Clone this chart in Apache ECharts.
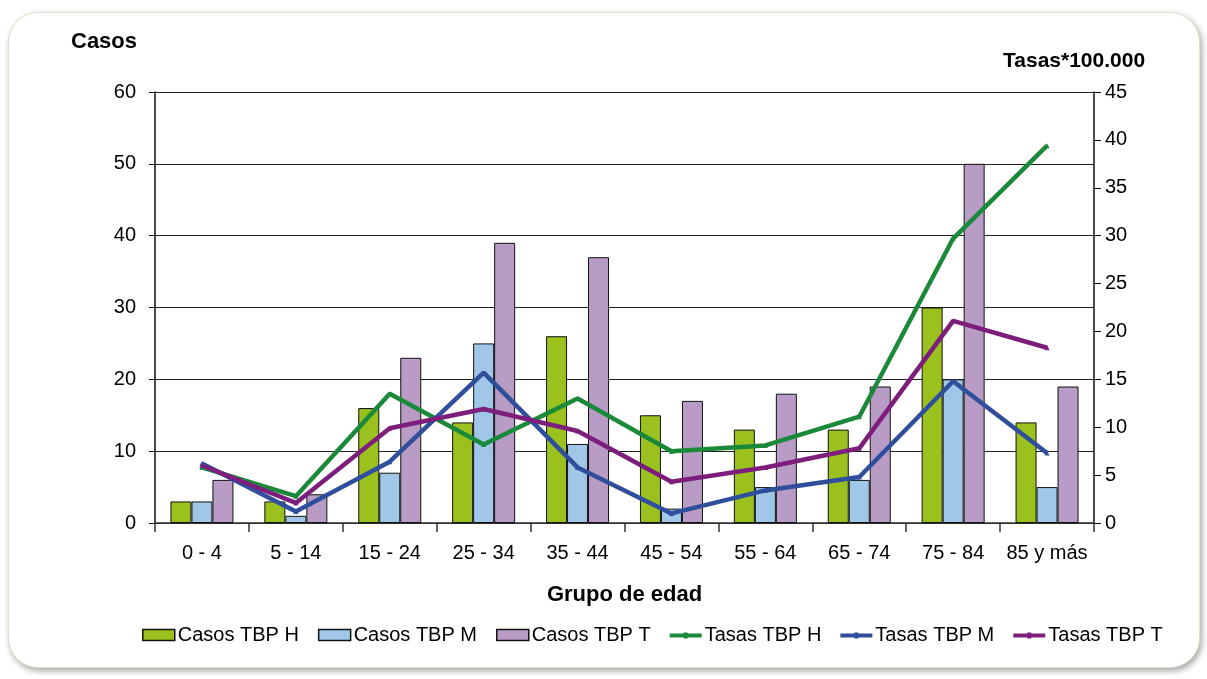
<!DOCTYPE html>
<html>
<head>
<meta charset="utf-8">
<script src="https://cdn.jsdelivr.net/npm/echarts@6/dist/echarts.min.js"></script>
<style>
html,body{margin:0;padding:0;background:#fff;}
#panel{position:absolute;left:8px;top:12px;width:1190px;height:654px;border:1px solid #d6e4c8;border-radius:30px;box-shadow:2px 3px 6px rgba(0,0,0,0.35);background:#fff;}
#chart{position:absolute;left:0;top:0;width:1207px;height:679px;}
</style>
</head>
<body>
<div id="panel"></div>
<div id="chart"></div>
<script>
const categories = ['0 - 4','5 - 14','15 - 24','25 - 34','35 - 44','45 - 54','55 - 64','65 - 74','75 - 84','85 y más'];
const casosH = [3, 3, 16, 14, 26, 15, 13, 13, 30, 14];
const casosM = [3, 1, 7, 25, 11, 2, 5, 6, 20, 5];
const casosT = [6, 4, 23, 39, 37, 17, 18, 19, 50, 19];
const tasasH = [5.8, 2.8, 13.5, 8.2, 13.0, 7.5, 8.1, 11.1, 29.7, 39.4];
const tasasM = [6.2, 1.2, 6.4, 15.7, 5.8, 1.0, 3.4, 4.8, 14.8, 7.3];
const tasasT = [6.0, 2.1, 9.9, 11.9, 9.6, 4.3, 5.8, 7.8, 21.1, 18.3];
const leftTicks = {min: 0, max: 60, interval: 10};
const rightTicks = {min: 0, max: 45, interval: 5};

const FONT = 'Liberation Sans, Arial, sans-serif';
const chart = echarts.init(document.getElementById('chart'), null, {renderer: 'canvas'});
function barSeries(name, data, color) {
  return {name, type: 'bar', yAxisIndex: 0, data, barWidth: 21, barGap: '0%',
    itemStyle: {color, borderColor: '#111', borderWidth: 1}};
}
function lineSeries(name, data, color) {
  return {name, type: 'line', yAxisIndex: 1, data, symbol: 'triangle', symbolSize: 5,
    lineStyle: {color, width: 4.5}, itemStyle: {color}, z: 5};
}
const legendLine = 'path://M0,0 L0.01,0 L0.01,0.01 Z M0,4 L32,4 L32,8 L0,8 Z M14,3 L18,3 L18,9 L14,9 Z M0,11 L0.01,11 L0.01,10.99 Z';
chart.setOption({
  backgroundColor: 'transparent',
  animation: false,
  textStyle: {fontFamily: FONT},
  grid: {left: 155, right: 113, top: 92, bottom: 156, containLabel: false},
  legend: {
    bottom: 29, left: 137, itemGap: 19, itemWidth: 32, itemHeight: 11,
    textStyle: {fontSize: 20, color: '#000', fontFamily: FONT, padding: [0,0,0,-2]},
    data: [
      {name: 'Casos TBP H', icon: 'rect', itemStyle: {borderColor: '#111', borderWidth: 1.5}},
      {name: 'Casos TBP M', icon: 'rect', itemStyle: {borderColor: '#111', borderWidth: 1.5}},
      {name: 'Casos TBP T', icon: 'rect', itemStyle: {borderColor: '#111', borderWidth: 1.5}},
      {name: 'Tasas TBP H', icon: legendLine},
      {name: 'Tasas TBP M', icon: legendLine},
      {name: 'Tasas TBP T', icon: legendLine}
    ]
  },
  xAxis: {
    type: 'category', data: categories,
    axisLine: {lineStyle: {color: '#333', width: 1.5}},
    axisTick: {show: true, alignWithLabel: false, length: 9, lineStyle: {color: '#333', width: 1.5}},
    axisLabel: {fontSize: 20, color: '#000', margin: 20, fontFamily: FONT, interval: 0},
    name: 'Grupo de edad', nameLocation: 'middle', nameGap: 61,
    nameTextStyle: {fontSize: 22, fontWeight: 'bold', color: '#000', fontFamily: FONT}
  },
  yAxis: [
    {type: 'value', min: leftTicks.min, max: leftTicks.max, interval: leftTicks.interval,
     axisLine: {show: true, lineStyle: {color: '#111', width: 1.5}},
     axisTick: {show: true, length: 6, lineStyle: {color: '#111'}},
     axisLabel: {fontSize: 20, color: '#000', margin: 19, fontFamily: FONT},
     splitLine: {show: true, lineStyle: {color: '#222', width: 1.2}}},
    {type: 'value', min: rightTicks.min, max: rightTicks.max, interval: rightTicks.interval,
     position: 'right',
     axisLine: {show: true, lineStyle: {color: '#111', width: 1.5}},
     axisTick: {show: true, length: 7, lineStyle: {color: '#111'}},
     axisLabel: {fontSize: 20, color: '#000', margin: 11, fontFamily: FONT},
     splitLine: {show: false}}
  ],
  graphic: [
    {type: 'text', left: 71, top: 31, style: {text: 'Casos', font: 'bold 22px ' + FONT, fill: '#000'}},
    {type: 'text', left: 1003, top: 51, style: {text: 'Tasas*100.000', font: 'bold 21px ' + FONT, fill: '#000'}}
  ],
  series: [
    barSeries('Casos TBP H', casosH, '#9bc11f'),
    barSeries('Casos TBP M', casosM, '#a0c7e8'),
    barSeries('Casos TBP T', casosT, '#b89cc6'),
    lineSeries('Tasas TBP H', tasasH, '#1a8a3a'),
    lineSeries('Tasas TBP M', tasasM, '#2f4e9b'),
    lineSeries('Tasas TBP T', tasasT, '#7d1e7d')
  ]
});
</script>
</body>
</html>
